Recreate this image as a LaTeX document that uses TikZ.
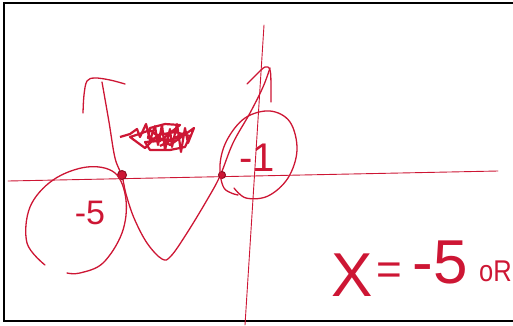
\documentclass[tikz,border=0pt]{standalone}
\usepackage{fontspec}
\setmainfont{Liberation Sans}
\begin{document}
\begin{tikzpicture}[x=1pt,y=-1pt,
  ink/.style={draw=pen,line width=1.3pt,line cap=round,line join=round},
  axis/.style={draw=pen,line width=0.9pt,line cap=round},
  hand/.style={text=pen,inner sep=0pt,font=\fontsize{#1}{#1}\selectfont},
  dot/.style={circle,fill=pen,draw=pen!70!black,line width=1pt,inner sep=0pt,minimum size=9pt}]
\definecolor{pen}{RGB}{205,22,52}
\useasboundingbox (0,0) rectangle (513,325);
\clip (0,0) rectangle (513,325);
% frame
\draw[line width=1.4pt] (520,3) -- (4,3) -- (4,321) -- (520,321);
% axes
\coordinate (xl) at (8,181);
\coordinate (xr) at (498,171);
\coordinate (yt) at (264,25);
\coordinate (yb) at (245,325);
\draw[axis] (xl) -- (xr);
\draw[axis] (yt) -- (yb);
% parabola
\draw[ink] plot[smooth,tension=0.6] coordinates {(102,82) (109,122) (115,158) (122,176) (126,194) (134,218) (147,243) (162,259) (171,256) (187,233) (207,200) (220,176) (233,143) (250,113) (263,87) (270,68)};
% left arrow hook
\draw[ink] plot[smooth,tension=0.6] coordinates {(83,113) (84,95) (87,81) (95,78) (110,80) (125,84)};
% right arrow hook
\draw[ink] plot[smooth,tension=0.6] coordinates {(247,84) (256,75) (265,67) (270,70) (271,85) (271,102)};
% roots
\node[dot] (r5) at (122,175) {};
\node[dot,minimum size=7pt] (r1) at (222,175) {};
% ellipse around -5
\draw[ink] plot[smooth,tension=0.6] coordinates {(45,265) (27,243) (30,207) (53,180) (87,167) (115,173) (126,200) (122,233) (103,263) (80,273) (67,273)};
% ellipse around -1
\draw[ink] plot[smooth,tension=0.6] coordinates {(234,188) (246,198) (268,196) (288,178) (297,150) (290,122) (270,111) (245,118) (227,140) (220,165) (224,188) (238,195)};
% labels
\node[hand=34] (m5) at (90,213) {-5};
\node[hand=40] (m1) at (257,158) {-1};
% scribble (crossed-out)
\draw[pen,line width=2.2pt,line join=round] plot coordinates {(120,137) (130,134) (137,129) (140,137) (146,124) (150,140) (155,126) (158,145) (162,125) (165,150) (170,129) (172,147) (177,124) (181,152) (185,128) (188,143) (194,128) (180,138) (170,145) (160,138) (150,130) (142,133) (130,137) (145,148) (158,135) (175,132) (190,136) (185,147) (170,150) (150,150) (145,142) (160,141) (180,125) (165,124) (150,128) (148,138) (172,140) (186,132) (160,146)};
% answer
\node[hand=62,anchor=base] (ax) at (352,296) {X};
\node[hand=44,anchor=base] (aeq) at (389,284) {=};
\node[hand=62,anchor=base] (a5) at (440,283) {-5};
\node[hand=30,anchor=base west,xscale=0.85] (aor) at (479,281) {oR};
\end{tikzpicture}
\end{document}
